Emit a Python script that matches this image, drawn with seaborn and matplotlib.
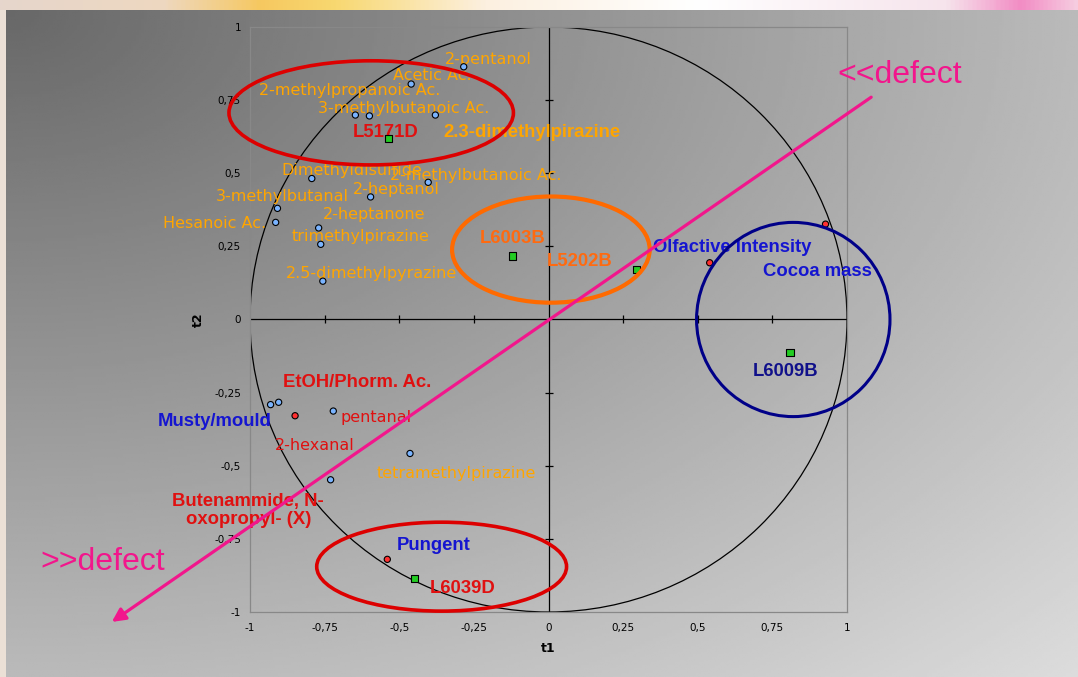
import numpy as np
import pandas as pd
import matplotlib
matplotlib.use("Agg")
import matplotlib.pyplot as plt
from matplotlib.patches import Ellipse, Circle
from matplotlib.colors import LinearSegmentedColormap
import seaborn as sns

# PCA loadings (t1, t2)
# volatile compounds -> light blue circles
comp_t1 = [-0.284, -0.460, -0.647, -0.600, -0.379, -0.793, -0.403, -0.596, -0.908,
           -0.914, -0.770, -0.763, -0.756, -0.931, -0.904, -0.721, -0.464, -0.730]
comp_t2 = [0.864, 0.805, 0.699, 0.696, 0.699, 0.482, 0.469, 0.419, 0.380,
           0.332, 0.313, 0.257, 0.131, -0.291, -0.283, -0.313, -0.458, -0.548]
# sensory attributes -> red circles
sens_t1 = [0.540, 0.928, -0.849, -0.540]
sens_t2 = [0.194, 0.326, -0.329, -0.820]
# samples -> green squares
samp_names = ["L5171D", "L6003B", "L5202B", "L6009B", "L6039D"]
samp_t1 = [-0.537, -0.122, 0.295, 0.809, -0.450]
samp_t2 = [0.619, 0.217, 0.171, -0.114, -0.886]

tick_vals = [-1, -0.75, -0.5, -0.25, 0, 0.25, 0.5, 0.75, 1]
tick_text = ["-1", "-0,75", "-0,5", "-0,25", "0", "0,25", "0,5", "0,75", "1"]

df = pd.DataFrame({
    "t1": comp_t1 + sens_t1 + samp_t1,
    "t2": comp_t2 + sens_t2 + samp_t2,
    "kind": ["compound"] * len(comp_t1) + ["sensory"] * len(sens_t1) + ["sample"] * len(samp_t1),
})

W, H = 1078, 677
fig = plt.figure(figsize=(W / 100, H / 100), dpi=100, facecolor="#ebe0d6")

# grey slide panel with diagonal gradient
bg = fig.add_axes([6 / W, 0, 1 - 6 / W, 667 / H], zorder=-10)
xx, yy = np.meshgrid(np.linspace(0, 1, 400), np.linspace(0, 1, 250))
r = np.sqrt(xx ** 2 + yy ** 2) / np.sqrt(2)
bg.imshow((104 + 116 * r) / 255, cmap="gray", vmin=0, vmax=1, aspect="auto", origin="upper")
bg.axis("off")

# strip of the slide picture on top
top = fig.add_axes([0, 667 / H, 1, 10 / H], zorder=-10)
strip = LinearSegmentedColormap.from_list("strip", [
    (0.0, "#e6d6cc"), (0.15, "#eed8c0"), (0.24, "#f6c860"), (0.31, "#f8d870"),
    (0.45, "#fcf0e0"), (0.65, "#ffffff"), (0.88, "#f6e4ec"), (0.95, "#f28cc4"), (1.0, "#f6cce0")])
top.imshow(np.linspace(0, 1, 500)[None, :], cmap=strip, aspect="auto")
top.axis("off")

ax = fig.add_axes([250 / W, 1 - 612 / H, 597 / W, 585 / H])
ax.set_facecolor("none")
ax.set_xlim(-1, 1)
ax.set_ylim(-1, 1)
for s in ax.spines.values():
    s.set_color("#888888")
    s.set_linewidth(0.9)
ax.set_xticks(tick_vals)
ax.set_xticklabels(tick_text)
ax.set_yticks(tick_vals)
ax.set_yticklabels(tick_text)
ax.tick_params(length=0, labelsize=7.5, colors="black")
ax.tick_params(axis="x", pad=8)
ax.tick_params(axis="y", pad=6.5)
ax.set_xlabel("t1", fontsize=9, fontweight="bold")
ax.set_ylabel("t2", fontsize=9, fontweight="bold")
ax.xaxis.set_label_coords(0.5, -0.052)
ax.yaxis.set_label_coords(-0.075, 0.5)

# centre axes with small ticks, unit circle
ax.axhline(0, color="black", lw=0.9, zorder=2)
ax.axvline(0, color="black", lw=0.9, zorder=2)
inner = [v for v in tick_vals if abs(v) not in (0, 1)]
ax.plot(inner, [0] * len(inner), "|", color="black", ms=6, mew=0.9, zorder=2)
ax.plot([0] * len(inner), inner, "_", color="black", ms=6, mew=0.9, zorder=2)
ax.add_patch(Circle((0, 0), 1, fill=False, ec="black", lw=0.9, zorder=2))

sns.scatterplot(data=df, x="t1", y="t2", hue="kind", style="kind", size="kind",
                palette={"compound": "#7ab4ff", "sensory": "#ff3030", "sample": "#22cc22"},
                markers={"compound": "o", "sensory": "o", "sample": "s"},
                sizes={"compound": 20, "sensory": 20, "sample": 26},
                edgecolor="black", linewidth=0.8, legend=False, ax=ax, zorder=4)
ax.set_xlabel("t1", fontsize=9, fontweight="bold")
ax.set_ylabel("t2", fontsize=9, fontweight="bold")

orange = "#ffa500"
red = "#e01010"
oranger = "#ff6a10"
blue = "#1515d0"
navy = "#10108a"
normal = dict(fontsize=11.5, family="DejaVu Sans", va="center", ha="left")
bold = dict(fontsize=13.3, family="Liberation Sans", fontweight="bold", va="center", ha="left")

labels = [
    ("2-pentanol", -0.348, 0.890, orange, normal),
    ("Acetic Ac.", -0.522, 0.833, orange, normal),
    ("2-methylpropanoic Ac.", -0.969, 0.782, orange, normal),
    ("3-methylbutanoic Ac.", -0.773, 0.722, orange, normal),
    ("Dimethyldisulfide", -0.894, 0.508, orange, normal),
    ("2-methylbutanoic Ac.", -0.530, 0.493, orange, normal),
    ("2-heptanol", -0.657, 0.445, orange, normal),
    ("3-methylbutanal", -1.114, 0.420, orange, normal),
    ("Hesanoic Ac.", -1.293, 0.329, orange, normal),
    ("2-heptanone", -0.757, 0.360, orange, normal),
    ("trimethylpirazine", -0.860, 0.285, orange, normal),
    ("2.5-dimethylpyrazine", -0.880, 0.157, orange, normal),
    ("tetramethylpirazine", -0.575, -0.525, orange, normal),
    ("pentanal", -0.698, -0.335, red, normal),
    ("2-hexanal", -0.916, -0.432, red, normal),
    ("2.3-dimethylpirazine", -0.351, 0.641, orange, bold),
    ("L5171D", -0.655, 0.641, red, bold),
    ("L6003B", -0.231, 0.277, oranger, bold),
    ("L5202B", -0.007, 0.198, oranger, bold),
    ("Olfactive Intensity", 0.350, 0.246, blue, bold),
    ("Cocoa mass", 0.719, 0.165, blue, bold),
    ("L6009B", 0.684, -0.179, navy, bold),
    ("EtOH/Phorm. Ac.", -0.888, -0.215, red, bold),
    ("Musty/mould", -1.308, -0.348, blue, bold),
    ("Pungent", -0.508, -0.771, blue, bold),
    ("L6039D", -0.398, -0.919, red, bold),
]
for txt, x, y, c, st in labels:
    ax.text(x, y, txt, color=c, zorder=3, **st)
ax.text(-1.006, -0.652, "Butenammide, N-\noxopropyl- (X)", color=red, zorder=3,
        fontsize=13.3, family="Liberation Sans", fontweight="bold",
        ha="center", va="center", linespacing=1.05)

# highlighted groups
ax.add_patch(Ellipse((-0.594, 0.7065), 0.953, 0.356, fill=False, ec="#dd0000", lw=2.6, zorder=5, clip_on=False))
ax.add_patch(Ellipse((0.008, 0.239), 0.662, 0.363, fill=False, ec="#ff6a00", lw=3.0, zorder=5, clip_on=False))
ax.add_patch(Ellipse((0.820, 0.0), 0.648, 0.664, fill=False, ec="#000088", lw=2.2, zorder=5, clip_on=False))
ax.add_patch(Ellipse((-0.358, -0.845), 0.837, 0.304, fill=False, ec="#dd0000", lw=2.6, zorder=5, clip_on=False))

# defect direction arrow
pink = "#f2168c"
ax.annotate("", xy=(-1.463, -1.034), xytext=(1.081, 0.760), annotation_clip=False, zorder=6,
            arrowprops=dict(arrowstyle="-|>", color=pink, lw=2.3, mutation_scale=20,
                            shrinkA=0, shrinkB=0))
ax.text(-1.703, -0.828, ">>defect", color=pink, fontsize=23, family="Liberation Sans",
        ha="left", va="center")
ax.text(0.969, 0.836, "<<defect", color=pink, fontsize=23, family="Liberation Sans",
        ha="left", va="center")

fig.savefig("out.png", dpi=100, facecolor=fig.get_facecolor())
